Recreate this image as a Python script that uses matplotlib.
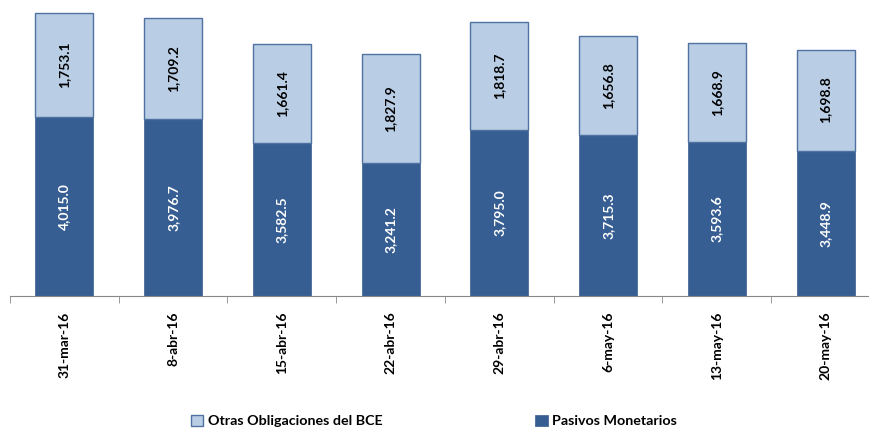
import numpy as np
import matplotlib.pyplot as plt

plt.rcParams['font.family'] = ['Lato', 'DejaVu Sans']

# data (millones)
fechas = ['31-mar-16', '8-abr-16', '15-abr-16', '22-abr-16',
          '29-abr-16', '6-may-16', '13-may-16', '20-may-16']
pasivos = [4015.0, 3976.7, 3582.5, 3241.2, 3795.0, 3715.3, 3593.6, 3448.9]
otras = [1753.1, 1709.2, 1661.4, 1827.9, 1818.7, 1656.8, 1668.9, 1698.8]

dark = '#375E92'
light = '#B9CDE5'
y0 = 1000  # axis does not start at zero

fig = plt.figure(figsize=(8.69, 4.29), dpi=100)
ax = fig.add_axes([10/869, 1 - 296/429, 870/869, 296/429])

x = np.arange(len(fechas))
w = 0.535
bot = [y0] * len(fechas)
h1 = [p - y0 for p in pasivos]
ax.bar(x, h1, w, bottom=bot, color=dark, edgecolor='#4A6C98', linewidth=0.6,
       label='Pasivos Monetarios')
ax.bar(x, otras, w, bottom=pasivos, color=light, edgecolor='#4F72A0', linewidth=1.0,
       label='Otras Obligaciones del BCE')

for i in range(len(fechas)):
    ax.text(x[i], (pasivos[i] + y0) / 2, f'{pasivos[i]:,.1f}', rotation=90, ha='center',
            va='center', color='white', fontsize=10, fontweight='bold')
    ax.text(x[i], pasivos[i] + otras[i] / 2, f'{otras[i]:,.1f}', rotation=90, ha='center',
            va='center', color='black', fontsize=10, fontweight='bold')

ax.set_xlim(-0.5, 7.5)
ax.set_ylim(y0, 5983)
ax.set_yticks([])
for s in ['top', 'right', 'left']:
    ax.spines[s].set_visible(False)
ax.spines['bottom'].set_color('#888888')

ax.set_xticks(x)
ax.set_xticklabels(fechas, rotation=90, fontsize=10, fontweight='bold')
ax.tick_params(axis='x', length=0, pad=11)
ax.set_xticks(np.arange(-0.5, 8, 1), minor=True)
ax.tick_params(axis='x', which='minor', length=5, color='#888888')

h, l = ax.get_legend_handles_labels()
fig.legend(h[::-1], l[::-1], loc='center', bbox_to_anchor=(434/869, 1 - 421/429), ncol=2,
           frameon=False, prop={'weight': 'bold', 'size': 10.3}, handlelength=0.85,
           handleheight=0.85, handletextpad=0.3, columnspacing=10.7)

fig.savefig('out.png', dpi=100)
